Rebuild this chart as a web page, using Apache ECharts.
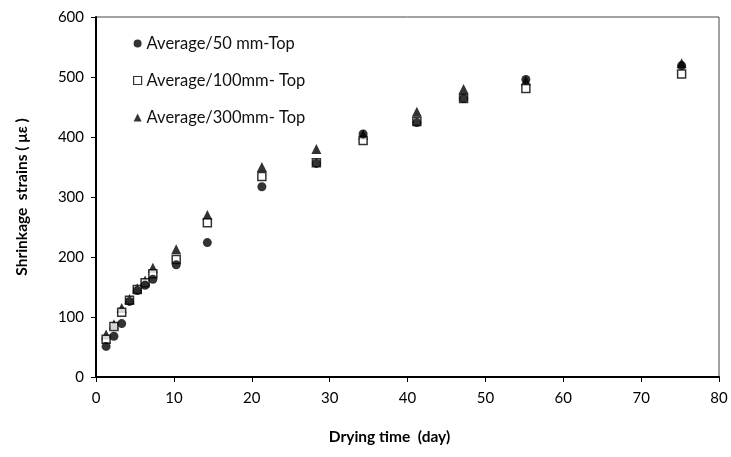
<!DOCTYPE html>
<html>
<head>
<meta charset="utf-8">
<script src="https://cdn.jsdelivr.net/npm/echarts@6/dist/echarts.min.js"></script>
<style>html,body{margin:0;padding:0;background:#fff}#c{width:731px;height:457px}</style>
</head>
<body>
<div id="c"></div>
<script>
var days = [1.3, 2.3, 3.3, 4.3, 5.3, 6.3, 7.3, 10.3, 14.3, 21.3, 28.3, 34.3, 41.2, 47.2, 55.2, 75.2];
var avg50 = [51, 68, 89, 126, 144, 153, 163, 187, 224, 317, 356, 405, 424, 464, 496, 519];
var avg100 = [63, 84, 108, 128, 146, 157, 172, 196, 257, 334, 357, 394, 426, 464, 481, 505];
var avg300 = [71, 88, 115, 130, 148, 161, 182, 213, 270, 350, 380, 404, 442, 480, 494, 523];
var names = ['Average/50 mm-Top', 'Average/100mm- Top', 'Average/300mm- Top'];
var xTicks = [0, 10, 20, 30, 40, 50, 60, 70, 80];
var yTicks = [0, 100, 200, 300, 400, 500, 600];

function pairs(xs, ys) { return xs.map(function (x, i) { return [x, ys[i]]; }); }

var font = 'Lato, Open Sans, sans-serif';
var chart = echarts.init(document.getElementById('c'));
chart.setOption({
  animation: false,
  grid: { left: 96, right: 12, top: 17, bottom: 80, show: true, borderColor: '#444', borderWidth: 1 },
  legend: {
    orient: 'vertical', left: 128, top: 30, itemGap: 20, itemWidth: 8, itemHeight: 8,
    textStyle: { fontFamily: font, fontSize: 16.5, color: '#111' },
    data: [
      { name: names[0], icon: 'circle' },
      { name: names[1], icon: 'rect', itemStyle: { color: '#fff', borderColor: '#000', borderWidth: 1.2 } },
      { name: names[2], icon: 'triangle' }
    ]
  },
  xAxis: {
    type: 'value', min: 0, max: 80, interval: 10,
    name: 'Drying time  (day)', nameLocation: 'middle', nameGap: 52,
    nameTextStyle: { fontFamily: font, fontSize: 15.5, fontWeight: 'bold', color: '#000', padding: [0, 36, 0, 0] },
    axisLine: { lineStyle: { color: '#000', width: 2 } },
    axisTick: { show: true, inside: false, length: 5, lineStyle: { color: '#000' } },
    axisLabel: { fontFamily: font, fontSize: 15, color: '#000', margin: 14 },
    splitLine: { show: false }
  },
  yAxis: {
    type: 'value', min: 0, max: 600, interval: 100,
    name: 'Shrinkage  strains ( μ\u03b5 )', nameLocation: 'middle', nameGap: 66,
    nameTextStyle: { fontFamily: font, fontSize: 15.5, fontWeight: 'bold', color: '#000' },
    axisLine: { show: true, lineStyle: { color: '#000', width: 2 } },
    axisTick: { show: true, length: 5, lineStyle: { color: '#000' } },
    axisLabel: { fontFamily: font, fontSize: 15, color: '#000', margin: 12 },
    splitLine: { show: false }
  },
  series: [
    { name: names[0], type: 'scatter', symbol: 'circle', symbolSize: 9, z: 3,
      itemStyle: { color: '#000' }, data: pairs(days, avg50) },
    { name: names[1], type: 'scatter', symbol: 'rect', symbolSize: 8, z: 2,
      itemStyle: { color: '#fff', borderColor: '#000', borderWidth: 1.5 }, data: pairs(days, avg100) },
    { name: names[2], type: 'scatter', symbol: 'triangle', symbolSize: 10, z: 1,
      itemStyle: { color: '#000' }, data: pairs(days, avg300) }
  ]
});
</script>
</body>
</html>
